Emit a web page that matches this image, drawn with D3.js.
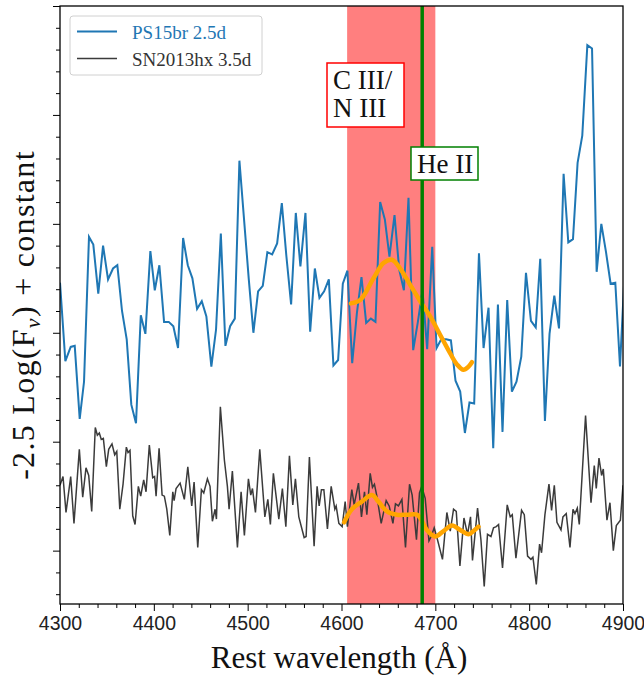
<!DOCTYPE html>
<html lang="en">
<head>
<meta charset="UTF-8">
<title>PS15br vs SN2013hx</title>
<script src="https://d3js.org/d3.v7.min.js"></script>
<style>
  body { margin: 0; background: #fff; }
  svg { font-family: "Liberation Serif", "DejaVu Serif", serif; }
  .tick text { font-size: 19.5px; fill: #222; }
</style>
</head>
<body>
<div id="chart"></div>
<script>
// PS15br 2.5d spectrum
const psWave = [4300.0,4305.7,4311.4,4315.7,4321.0,4325.6,4330.9,4335.5,4340.8,4345.9,4351.2,4356.5,4361.1,4366.1,4371.1,4376.0,4381.0,4386.1,4391.0,4396.3,
  4401.0,4405.9,4410.9,4415.9,4420.8,4425.8,4431.2,4436.2,4441.1,4446.1,4451.1,4456.0,4461.3,4466.3,4471.4,4476.3,4481.3,4486.3,4491.2,4501.2,
  4506.1,4511.1,4516.1,4521.0,4526.1,4531.4,4536.4,4541.3,4546.3,4551.3,4556.2,4561.6,4566.6,4571.6,4576.5,4581.5,4586.5,4591.4,4596.4,4601.4,
  4606.3,4611.4,4616.4,4621.3,4626.3,4631.3,4636.2,4641.2,4646.2,4651.1,4656.5,4661.5,4666.5,4671.4,4676.4,4681.4,4686.3,4691.3,4696.7,4701.3,
  4706.3,4711.6,4716.6,4721.5,4726.5,4731.5,4736.4,4741.4,4746.5,4751.4,4756.7,4761.7,4766.7,4771.6,4776.6,4781.6,4786.5,4791.6,4796.6,4801.9,
  4807.0,4811.8,4816.8,4821.7,4826.8,4831.8,4836.7,4841.7,4846.7,4851.6,4856.6,4862.0,4867.0,4871.9,4876.9,4881.9,4886.8,4891.8,4896.8,4901.9];
const psFlux = [2.46,1.74,1.87,1.88,1.21,1.55,2.88,2.81,2.36,2.80,2.49,2.59,2.62,2.20,1.94,1.34,1.17,2.16,1.99,2.75,
  2.39,2.62,2.10,2.10,2.06,1.86,2.87,2.62,2.50,2.22,2.29,2.15,1.69,2.03,2.91,1.88,2.06,2.13,3.58,2.49,
  2.00,2.38,2.43,2.74,2.72,2.82,3.19,2.70,2.26,3.10,2.61,3.10,2.01,2.59,2.32,2.38,2.49,1.70,1.75,2.45,
  2.57,1.72,2.18,2.51,2.09,2.13,2.10,3.20,3.04,2.70,3.08,2.58,2.39,3.24,1.84,2.10,2.39,1.85,2.79,1.86,
  1.94,1.94,1.93,1.56,1.46,1.08,1.36,1.35,2.73,1.86,2.23,0.94,2.26,1.09,2.30,1.46,1.55,1.78,2.55,2.11,
  2.05,2.68,1.19,1.99,2.34,2.04,3.46,2.83,2.86,3.56,3.81,4.64,4.61,2.56,3.00,2.74,2.45,2.46,1.69,2.58];

// SN2013hx 3.5d spectrum
const snWave = [4300.0,4303.2,4306.4,4311.4,4314.9,4320.6,4324.2,4327.7,4330.6,4333.8,4337.6,4339.8,4341.9,4344.0,4346.2,4349.4,4351.9,4355.4,4358.3,4360.5,
  4363.7,4367.2,4370.7,4372.5,4374.6,4377.5,4380.0,4383.5,4386.0,4389.2,4391.7,4395.2,4398.8,4400.8,4402.4,4405.6,4408.8,4411.2,4413.8,4417.0,
  4420.2,4421.6,4423.7,4428.0,4432.5,4436.2,4440.4,4442.9,4446.8,4450.7,4453.2,4457.1,4459.9,4462.4,4465.3,4466.7,4470.9,4475.2,4478.4,4480.2,
  4483.7,4489.1,4493.0,4496.5,4500.8,4503.3,4505.1,4508.3,4512.9,4518.3,4521.5,4524.2,4527.4,4533.2,4537.0,4540.7,4544.5,4548.1,4550.9,4554.5,
  4560.2,4562.3,4565.8,4570.8,4574.0,4576.2,4578.6,4581.2,4585.0,4589.0,4592.9,4594.3,4597.2,4600.7,4603.9,4606.3,4611.0,4613.5,4618.1,4621.3,
  4624.5,4627.0,4630.6,4633.0,4635.1,4637.7,4642.3,4647.6,4650.8,4654.8,4657.5,4660.7,4664.4,4668.2,4672.5,4675.3,4679.9,4683.1,4685.5,4689.2,
  4693.2,4695.6,4698.8,4702.3,4707.6,4712.3,4715.9,4719.4,4722.3,4726.2,4730.5,4734.3,4737.5,4739.6,4745.0,4748.6,4752.1,4755.6,4759.3,4762.0,
  4764.9,4767.4,4771.6,4776.6,4779.8,4782.0,4785.9,4791.9,4794.8,4798.3,4801.9,4804.0,4807.6,4811.1,4813.2,4816.8,4821.1,4823.9,4826.8,4829.6,
  4833.9,4836.0,4839.5,4843.5,4846.7,4848.8,4851.3,4853.4,4860.1,4865.9,4869.4,4871.5,4874.4,4877.2,4879.0,4882.9,4886.1,4889.7,4892.9,4897.2,4900.0];
const snFlux = [0.60,0.68,0.35,0.68,0.25,0.93,0.49,0.76,0.69,0.36,1.13,1.06,1.08,1.02,1.03,0.77,0.93,0.98,0.88,0.91,
  0.38,0.61,0.95,0.90,0.92,0.32,0.24,0.59,0.50,0.65,0.54,0.97,0.67,0.68,0.50,0.94,0.51,0.50,0.38,0.14,
  0.54,0.46,0.57,0.62,0.47,0.77,0.41,0.63,0.03,0.56,0.53,0.66,0.59,0.27,0.38,0.29,1.32,0.83,0.59,0.38,
  0.73,0.03,0.54,0.14,0.66,0.51,0.57,0.35,0.93,0.31,0.47,0.24,0.71,0.29,0.57,0.22,0.87,0.42,0.66,0.31,
  0.12,0.13,0.86,0.04,0.59,0.41,0.56,0.56,0.20,0.59,0.38,0.41,0.25,0.22,0.45,0.22,0.56,0.42,0.62,0.31,
  0.54,0.33,0.71,0.58,0.61,0.50,0.25,0.46,0.41,0.25,0.43,0.41,0.47,0.03,0.61,0.51,0.10,0.53,0.59,0.48,
  0.09,0.13,0.21,0.10,-0.08,0.35,0.18,0.38,0.36,-0.14,0.30,0.15,0.31,-0.09,0.39,0.10,-0.33,0.15,0.13,0.21,
  0.22,0.24,-0.16,0.42,0.31,0.33,-0.07,0.37,0.33,-0.05,-0.08,-0.06,-0.31,0.06,-0.02,0.33,0.61,0.37,0.60,0.26,
  0.19,0.31,0.34,0.03,0.38,0.34,0.39,0.24,1.24,0.44,0.78,0.57,0.85,0.69,0.75,0.28,0.44,0.00,0.23,0.28,0.60];

// smoothed fits (orange)
const fitPsWave = [4610.0,4619.9,4634.1,4644.7,4653.7,4662.5,4673.2,4683.9,4694.5,4705.2,4715.9,4723.0,4730.0,4735.4,4739.0];
const fitPsFlux = [2.27,2.30,2.50,2.64,2.67,2.59,2.44,2.29,2.15,1.98,1.81,1.71,1.66,1.69,1.73];
const fitSnWave = [4602.8,4611.0,4621.7,4632.4,4639.4,4648.4,4659.0,4669.7,4680.4,4683.9,4691.0,4699.9,4708.7,4717.7,4726.5,4735.4,4740.7,4746.0];
const fitSnFlux = [0.26,0.38,0.45,0.51,0.45,0.36,0.33,0.33,0.33,0.30,0.19,0.13,0.18,0.23,0.19,0.15,0.18,0.22];

// line region and He II
const bandRange = [4606, 4700];
const heII = 4686;

const xTicks = [4300, 4400, 4500, 4600, 4700, 4800, 4900];

const W = 644, H = 676;
const margin = { top: 6, right: 21, bottom: 72, left: 60 };
const width = W - margin.left - margin.right;
const height = H - margin.top - margin.bottom;

const svg = d3.select("#chart").append("svg")
  .attr("width", W).attr("height", H);

const g = svg.append("g")
  .attr("transform", `translate(${margin.left},${margin.top})`);

const x = d3.scaleLinear().domain([4300, 4900]).range([0, width]);
const y = d3.scaleLinear().domain([-0.49, 5]).range([height, 0]);

g.append("clipPath").attr("id", "clip")
  .append("rect").attr("width", width).attr("height", height);

const plot = g.append("g").attr("clip-path", "url(#clip)");

// shaded C III / N III region
plot.append("rect")
  .attr("x", x(bandRange[0]))
  .attr("y", 0)
  .attr("width", x(bandRange[1]) - x(bandRange[0]))
  .attr("height", height)
  .attr("fill", "#ff7f7f");

const line = d3.line().x(d => x(d[0])).y(d => y(d[1]));
const smooth = d3.line().x(d => x(d[0])).y(d => y(d[1])).curve(d3.curveCatmullRom);

plot.append("path")
  .datum(psWave.map((w, i) => [w, psFlux[i]]))
  .attr("d", line)
  .attr("fill", "none").attr("stroke", "#1f77b4").attr("stroke-width", 2);

plot.append("path")
  .datum(snWave.map((w, i) => [w, snFlux[i]]))
  .attr("d", line)
  .attr("fill", "none").attr("stroke", "#3b3b3b").attr("stroke-width", 1.5);

[[fitPsWave, fitPsFlux], [fitSnWave, fitSnFlux]].forEach(([ws, fs]) => {
  plot.append("path")
    .datum(ws.map((w, i) => [w, fs[i]]))
    .attr("d", smooth)
    .attr("fill", "none").attr("stroke", "orange")
    .attr("stroke-width", 4.5).attr("stroke-linecap", "round");
});

plot.append("line")
  .attr("x1", x(heII)).attr("x2", x(heII))
  .attr("y1", 0).attr("y2", height)
  .attr("stroke", "green").attr("stroke-width", 3.5);

// axes
const xMinor = d3.range(4300, 4901, 20).filter(v => v % 100 !== 0);
g.append("g")
  .attr("transform", `translate(0,${height})`)
  .call(d3.axisBottom(x).tickValues(xMinor).tickSize(4).tickFormat(""))
  .call(a => a.select(".domain").remove());
g.append("g")
  .attr("transform", `translate(0,${height})`)
  .call(d3.axisBottom(x).tickValues(xTicks).tickSize(7).tickPadding(5).tickFormat(d3.format("d")))
  .call(a => a.select(".domain").remove());

const yMajor = [0, 1, 2, 3, 4, 5];
const yMinor = d3.range(-2, 25).map(k => k / 5).filter(v => Math.abs(v - Math.round(v)) > 1e-6);
g.append("g")
  .call(d3.axisLeft(y).tickValues(yMinor).tickSize(4).tickFormat(""))
  .call(a => a.select(".domain").remove());
g.append("g")
  .call(d3.axisLeft(y).tickValues(yMajor).tickSize(7).tickFormat(""))
  .call(a => a.select(".domain").remove());

g.selectAll(".tick line").attr("stroke", "#000").attr("stroke-width", 1);

// frame
g.append("rect")
  .attr("width", width).attr("height", height)
  .attr("fill", "none").attr("stroke", "#000").attr("stroke-width", 1.3);

// annotation boxes
function labelBox(lines, bx, by, bw, bh, color) {
  const b = g.append("g");
  b.append("rect")
    .attr("x", bx - margin.left).attr("y", by - margin.top)
    .attr("width", bw).attr("height", bh)
    .attr("fill", "#fff").attr("stroke", color).attr("stroke-width", 1.5);
  lines.forEach((t, i) => {
    b.append("text")
      .attr("x", bx - margin.left + 6)
      .attr("y", by - margin.top + 26 + i * 28)
      .attr("font-size", 27).attr("fill", "#111")
      .text(t);
  });
}
labelBox(["C III/", "N III"], 327, 63, 77, 64, "red");
labelBox(["He II"], 411, 147, 67, 33, "green");

// legend
const leg = g.append("g").attr("transform", `translate(${70 - margin.left},${16 - margin.top})`);
leg.append("rect")
  .attr("width", 192).attr("height", 59).attr("rx", 3)
  .attr("fill", "#fff").attr("fill-opacity", 0.8)
  .attr("stroke", "#d0d0d0");
const legendItems = [
  { label: "PS15br 2.5d", color: "#1f77b4", text: "#1f77b4", w: 2 },
  { label: "SN2013hx 3.5d", color: "#3b3b3b", text: "#333", w: 1.5 }
];
legendItems.forEach((d, i) => {
  const yy = 15.5 + i * 27;
  leg.append("line").attr("x1", 7).attr("x2", 47).attr("y1", yy).attr("y2", yy)
    .attr("stroke", d.color).attr("stroke-width", d.w);
  leg.append("text").attr("x", 62).attr("y", yy + 7)
    .attr("font-size", 19).attr("fill", d.text).text(d.label);
});

// axis labels
svg.append("text")
  .attr("x", 339).attr("y", 668)
  .attr("text-anchor", "middle").attr("font-size", 31).attr("fill", "#111")
  .text("Rest wavelength (Å)");

const yl = svg.append("text")
  .attr("transform", "translate(34,315) rotate(-90)")
  .attr("text-anchor", "middle").attr("font-size", 32).attr("letter-spacing", 1.3).attr("fill", "#111");
yl.append("tspan").text("-2.5 Log(F");
yl.append("tspan").attr("font-size", 22).attr("font-style", "italic").attr("dy", 6).text("ν");
yl.append("tspan").attr("dy", -6).text(") + constant");
</script>
</body>
</html>
